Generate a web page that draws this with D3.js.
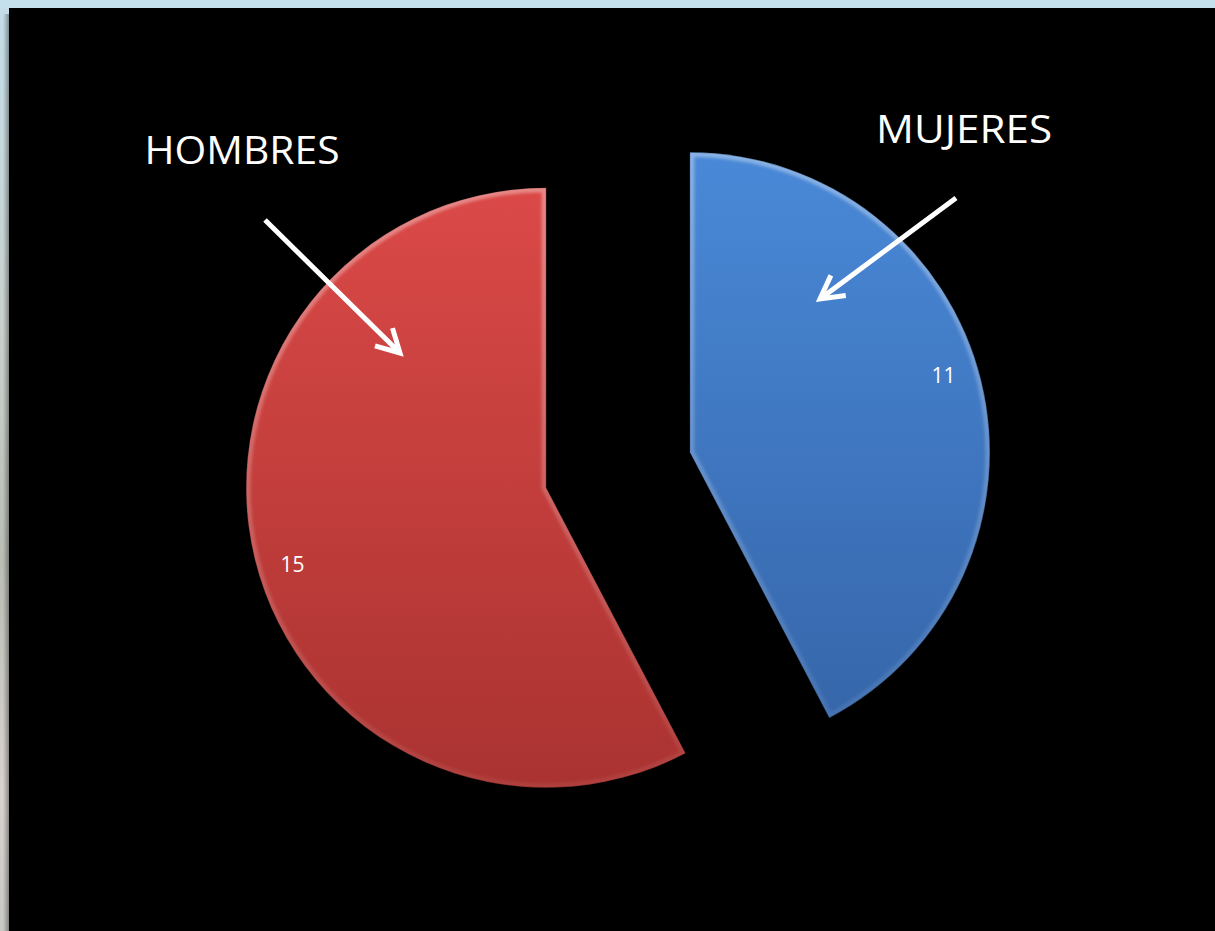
<!DOCTYPE html>
<html>
<head>
<meta charset="utf-8">
<script src="https://cdn.jsdelivr.net/npm/d3@7"></script>
<style>
  html, body { margin: 0; padding: 0; background: #c4e0ec; overflow: hidden; }
  svg { display: block; }
</style>
</head>
<body>
<svg id="chart" width="1215" height="931"></svg>
<script>
// Chart data
var categories = ["MUJERES", "HOMBRES"];
var values = [11, 15];
var sliceColors = [["#4a8ad9", "#3463a6"], ["#dc4a48", "#a83230"]];

var svg = d3.select("#chart"),
    width = +svg.attr("width"),
    height = +svg.attr("height");

var defs = svg.append("defs");

// Left strip (slide edge) with a soft grey fade
var stripGrad = defs.append("linearGradient")
    .attr("id", "strip").attr("x1", 0).attr("y1", 0).attr("x2", 0).attr("y2", 1);
stripGrad.append("stop").attr("offset", "0%").attr("stop-color", "#c4dde8");
stripGrad.append("stop").attr("offset", "35%").attr("stop-color", "#c9d0cc");
stripGrad.append("stop").attr("offset", "60%").attr("stop-color", "#b9bdb4");
stripGrad.append("stop").attr("offset", "85%").attr("stop-color", "#d8d2cf");
stripGrad.append("stop").attr("offset", "100%").attr("stop-color", "#c8c8c4");

svg.append("rect")
    .attr("x", 0).attr("y", 8)
    .attr("width", 9).attr("height", height - 8)
    .attr("fill", "url(#strip)");

// Shadow next to the black panel
var shadow = defs.append("linearGradient")
    .attr("id", "shadow").attr("x1", 0).attr("x2", 1).attr("y1", 0).attr("y2", 0);
shadow.append("stop").attr("offset", "0%").attr("stop-color", "#000").attr("stop-opacity", 0);
shadow.append("stop").attr("offset", "100%").attr("stop-color", "#000").attr("stop-opacity", 0.35);
svg.append("rect")
    .attr("x", 3).attr("y", 14)
    .attr("width", 6).attr("height", height - 14)
    .attr("fill", "url(#shadow)");

// Black chart panel
svg.append("rect")
    .attr("x", 9).attr("y", 8)
    .attr("width", width - 9).attr("height", height - 8)
    .attr("fill", "#000");

// Slice gradients
sliceColors.forEach(function(c, i) {
    var g = defs.append("linearGradient")
        .attr("id", "slice" + i)
        .attr("gradientUnits", "userSpaceOnUse")
        .attr("x1", 0).attr("y1", -320).attr("x2", 0).attr("y2", 320);
    g.append("stop").attr("offset", "0%").attr("stop-color", c[0]);
    g.append("stop").attr("offset", "100%").attr("stop-color", c[1]);
});

// Rim highlight fades from top to bottom
var rim = defs.append("linearGradient")
    .attr("id", "rim")
    .attr("gradientUnits", "userSpaceOnUse")
    .attr("x1", 0).attr("y1", -300).attr("x2", 0).attr("y2", 300);
rim.append("stop").attr("offset", "0%").attr("stop-color", "#fff").attr("stop-opacity", 0.35);
rim.append("stop").attr("offset", "100%").attr("stop-color", "#fff").attr("stop-opacity", 0.06);

var soft = defs.append("filter").attr("id", "soft");
soft.append("feGaussianBlur").attr("stdDeviation", 1.5);

// Pie layout
var cx = 618, cy = 470, radius = 300, explode = 74;

var pie = d3.pie().sort(null).value(d => d);
var arcs = pie(values);

var arc = d3.arc().innerRadius(0).outerRadius(radius);
var labelArc = d3.arc().innerRadius(265).outerRadius(265);
var nudge = -0.052; // labels sit a little before the bisector

function offset(d) {
    var a = (d.startAngle + d.endAngle) / 2;
    return [cx + explode * Math.sin(a), cy - explode * Math.cos(a)];
}

var slices = svg.selectAll("g.slice")
    .data(arcs)
    .enter().append("g")
    .attr("class", "slice")
    .attr("transform", d => "translate(" + offset(d) + ")");

slices.append("clipPath")
    .attr("id", (d, i) => "clip" + i)
    .append("path")
    .attr("d", arc);

slices.append("path")
    .attr("d", arc)
    .attr("fill", (d, i) => "url(#slice" + i + ")");

// Bevel: light rim inside the edge, darker outline
slices.append("path")
    .attr("d", arc)
    .attr("clip-path", (d, i) => "url(#clip" + i + ")")
    .attr("fill", "none")
    .attr("stroke", "url(#rim)")
    .attr("stroke-width", 9)
    .attr("filter", "url(#soft)");

slices.append("path")
    .attr("d", arc)
    .attr("fill", "none")
    .attr("stroke", "#000")
    .attr("stroke-opacity", 0.25)
    .attr("stroke-width", 1);

// Data labels
slices.append("text")
    .attr("transform", d => {
        var a = (d.startAngle + d.endAngle) / 2 + nudge;
        return "translate(" + labelArc.centroid({startAngle: a, endAngle: a}) + ")";
    })
    .attr("text-anchor", "middle")
    .attr("dy", "0.35em")
    .attr("fill", "#fff")
    .attr("font-family", "'Open Sans', sans-serif")
    .attr("font-size", 21)
    .text(d => d.data);

// Category titles with arrows
var notes = [
    { text: categories[0], x: 964, y: 143, w: 176, from: [956, 198], to: [820, 299] },
    { text: categories[1], x: 242, y: 164, w: 195, from: [265, 220], to: [400, 353] }
];

svg.selectAll("text.note")
    .data(notes)
    .enter().append("text")
    .attr("class", "note")
    .attr("x", d => d.x - d.w / 2).attr("y", d => d.y)
    .attr("textLength", d => d.w)
    .attr("lengthAdjust", "spacingAndGlyphs")
    .attr("fill", "#fff")
    .attr("font-family", "'Open Sans', sans-serif")
    .attr("font-size", 39)
    .text(d => d.text);

function arrowPath(d) {
    var dx = d.to[0] - d.from[0], dy = d.to[1] - d.from[1];
    var a = Math.atan2(dy, dx), h = 26, spread = 0.5;
    var p1 = [d.to[0] - h * Math.cos(a - spread), d.to[1] - h * Math.sin(a - spread)];
    var p2 = [d.to[0] - h * Math.cos(a + spread), d.to[1] - h * Math.sin(a + spread)];
    return "M" + d.from + "L" + d.to + "M" + p1 + "L" + d.to + "L" + p2;
}

svg.selectAll("path.arrow")
    .data(notes)
    .enter().append("path")
    .attr("class", "arrow")
    .attr("d", arrowPath)
    .attr("fill", "none")
    .attr("stroke", "#fff")
    .attr("stroke-width", 5)
    .attr("stroke-linejoin", "miter")
    .attr("stroke-linecap", "butt");
</script>
</body>
</html>
